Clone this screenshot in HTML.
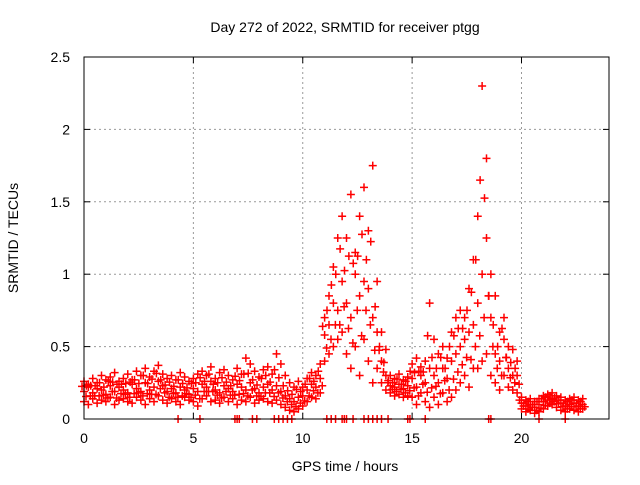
<!DOCTYPE html>
<html><head><meta charset="utf-8"><style>
body{margin:0;background:#fff}
svg text{font-family:"Liberation Sans",sans-serif;font-size:14px;fill:#000}
</style></head><body>
<svg id="c" width="640" height="480">
<text x="345" y="32" text-anchor="middle">Day 272 of 2022, SRMTID for receiver ptgg</text>
<text x="345" y="471" text-anchor="middle">GPS time / hours</text>
<text transform="translate(18,238) rotate(-90)" text-anchor="middle">SRMTID / TECUs</text>
<g id="grid"></g><g id="marks"></g><g id="axes"></g>
</svg>
<script>
const hours=[0,0.2,0.4,0.6,0.8,1,1.2,1.4,1.6,1.8,2,2.2,2.4,2.6,2.8,3,3.2,3.4,3.6,3.8,4,4.2,4.4,4.6,4.8,5,5.2,5.4,5.6,5.8,6,6.2,6.4,6.6,6.8,7,7.2,7.4,7.6,7.8,8,8.2,8.4,8.6,8.8,9,9.2,9.4,9.6,9.8,10,10.2,10.4,10.6,10.8,11,11.2,11.4,11.6,11.8,12,12.2,12.4,12.6,12.8,13,13.2,13.4,13.6,13.8,14,14.2,14.4,14.6,14.8,15,15.2,15.4,15.6,15.8,16,16.2,16.4,16.6,16.8,17,17.2,17.4,17.6,17.8,18,18.2,18.4,18.6,18.8,19,19.2,19.4,19.6,19.8,20,20.2,20.4,20.6,20.8,21,21.2,21.4,21.6,21.8,22,22.2,22.4,22.6,22.8];
const lowVals=[0.12,0.10,0.14,0.11,0.13,0.12,0.15,0.10,0.13,0.14,0.12,0.11,0.15,0.13,0.10,0.14,0.12,0.16,0.13,0.11,0.14,0.12,0.10,0.15,0.13,0.12,0.09,0.14,0.16,0.12,0.13,0.11,0.15,0.12,0.14,0.10,0.13,0.12,0.15,0.11,0.13,0.14,0.12,0.11,0.13,0.10,0.08,0.06,0.05,0.07,
0.09,0.12,0.15,0.14,0.18,0.40,0.45,0.50,0.55,0.60,0.45,0.35,0.50,0.30,0.55,0.40,0.25,0.35,0.25,0.20,0.18,0.16,0.17,0.15,0.16,0.15,0.10,0.18,0.12,0.08,0.15,0.10,0.18,0.12,0.15,0.20,0.25,0.30,0.22,0.35,0.35,0.40,0.45,0.30,0.25,0.20,0.30,0.22,0.20,0.18,0.07,0.05,0.06,0.04,0.05,0.07,0.09,0.10,0.08,0.06,0.05,0.07,0.06,0.05,0.07];
const midVals=[0.19,0.22,0.18,0.21,0.20,0.17,0.23,0.19,0.22,0.20,0.18,0.24,0.21,0.19,0.25,0.20,0.22,0.26,0.23,0.19,0.21,0.18,0.22,0.20,0.17,0.21,0.19,0.24,0.22,0.26,0.20,0.18,0.23,0.21,0.19,0.24,0.22,0.20,0.25,0.21,0.18,0.22,0.24,0.20,0.23,0.19,0.16,0.14,0.12,0.15,
0.16,0.20,0.24,0.22,0.28,0.58,0.65,0.80,0.75,0.95,0.80,0.70,1.00,0.85,0.95,0.90,0.70,0.60,0.40,0.30,0.23,0.22,0.24,0.21,0.23,0.28,0.22,0.30,0.25,0.35,0.30,0.25,0.35,0.28,0.40,0.45,0.50,0.55,0.60,0.65,0.80,1.00,1.25,0.70,0.45,0.40,0.55,0.35,0.30,0.30,0.11,0.09,0.10,0.08,0.10,0.12,0.13,0.14,0.13,0.11,0.09,0.10,0.11,0.09,0.10];
const highVals=[0.26,0.24,0.28,0.25,0.30,0.27,0.29,0.32,0.26,0.28,0.31,0.27,0.33,0.30,0.35,0.29,0.33,0.37,0.31,0.28,0.30,0.27,0.32,0.29,0.26,0.28,0.31,0.33,0.30,0.36,0.28,0.32,0.34,0.30,0.27,0.35,0.31,0.42,0.38,0.33,0.29,0.34,0.36,0.31,0.45,0.38,0.30,0.25,0.22,0.26,
0.22,0.28,0.32,0.30,0.38,0.70,0.85,1.05,1.25,1.40,1.25,1.55,1.15,1.40,1.60,1.30,1.75,0.95,0.60,0.48,0.30,0.28,0.31,0.27,0.29,0.38,0.42,0.36,0.40,0.80,0.55,0.45,0.50,0.42,0.60,0.70,0.75,0.70,0.90,1.10,1.40,2.30,1.80,1.00,0.85,0.60,0.70,0.50,0.48,0.40,0.15,0.13,0.14,0.12,0.14,0.16,0.17,0.18,0.16,0.15,0.13,0.14,0.15,0.13,0.14];
const zeroHours=[4.3,5.3,6.9,7.0,7.1,7.7,7.9,8.7,8.9,9.1,9.3,9.5,11.1,11.3,11.5,11.8,11.9,12.0,12.3,12.8,13.0,13.2,13.4,13.6,13.9,14.8,14.9,15.6,18.5,18.6,20.8,22.0];
const xTicks=[0,5,10,15,20];
const yTicks=[0,0.5,1,1.5,2,2.5];
const yTickLabels=["0","0.5","1","1.5","2","2.5"];
const L=84,R=609,T=57,B=419,XMAX=24,YMAX=2.5;
const xs=v=>L+v/XMAX*(R-L), ys=v=>B-v/YMAX*(B-T);
const NS="http://www.w3.org/2000/svg";
function mk(tag,attrs,parent){const e=document.createElementNS(NS,tag);for(const k in attrs)e.setAttribute(k,attrs[k]);parent.appendChild(e);return e;}
const grid=document.getElementById('grid'),marks=document.getElementById('marks'),axes=document.getElementById('axes');
xTicks.forEach((t,i)=>{
 if(t>0){const g=mk('line',{x1:xs(t),x2:xs(t),y1:T,y2:B,stroke:'#999','stroke-dasharray':'2,3'},grid);
 
 }
 mk('line',{x1:xs(t),x2:xs(t),y1:B,y2:B-6,stroke:'#000'},axes);
 mk('line',{x1:xs(t),x2:xs(t),y1:T,y2:T+6,stroke:'#000'},axes);
 const tx=mk('text',{x:xs(t),y:B+24,'text-anchor':'middle'},axes);tx.textContent=t;
 
 
});
yTicks.forEach((t,i)=>{
 if(t>0&&t<YMAX){const g=mk('line',{x1:L,x2:R,y1:ys(t),y2:ys(t),stroke:'#999','stroke-dasharray':'2,3'},grid);
 
 }
 mk('line',{x1:L,x2:L+6,y1:ys(t),y2:ys(t),stroke:'#000'},axes);
 mk('line',{x1:R,x2:R-6,y1:ys(t),y2:ys(t),stroke:'#000'},axes);
 const tx=mk('text',{x:L-14,y:ys(t)+5,'text-anchor':'end'},axes);tx.textContent=yTickLabels[i];
 
 
});
const frame=mk('rect',{x:L,y:T,width:R-L,height:B-T,fill:'none',stroke:'#000'},axes);


function plus(x,y){const d=`M${x-4},${y}h8M${x},${y-4}v8`;const p=mk('path',{d:d,stroke:'#f00','stroke-width':1.5,fill:'none'},marks);
 
 }
[lowVals,midVals,highVals].forEach(s=>{hours.forEach((h,i)=>plus(xs(h),ys(s[i])));});
hours.forEach((h,i)=>{plus(xs(h)+2,ys((lowVals[i]+midVals[i])/2));plus(xs(h)-2,ys((midVals[i]+highVals[i])/2));});
zeroHours.forEach(h=>plus(xs(h),ys(0)));
</script>
</body></html>
